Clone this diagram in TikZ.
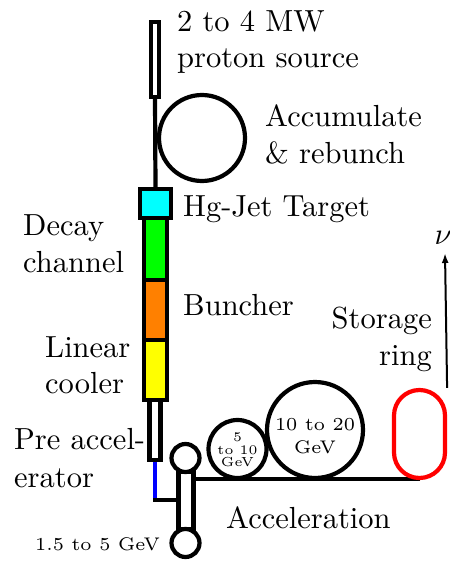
\documentclass[tikz,border=0pt]{standalone}
\usepackage{fontspec}
\usetikzlibrary{arrows.meta}
\definecolor{aqua}{RGB}{0,255,255}
\definecolor{lime}{RGB}{0,255,0}
\definecolor{orng}{RGB}{255,128,0}
\definecolor{yllw}{RGB}{255,255,0}
\definecolor{rred}{RGB}{255,0,0}
\definecolor{bblue}{RGB}{0,0,255}
\newcommand{\bigtxt}[1]{\scalebox{3.05}{\fontsize{10}{12}\selectfont #1}}
\newcommand{\midtxt}[1]{\scalebox{3.05}{\fontsize{6}{7}\selectfont #1}}
\newcommand{\smltxt}[1]{\scalebox{3.05}{\fontsize{4.3}{5}\selectfont #1}}
\tikzset{
  lbl/.style={inner sep=0pt},
  box/.style={draw, line width=4.2pt, inner sep=0pt, rectangle},
  ring/.style={draw, line width=4.2pt, inner sep=0pt, circle},
  wire/.style={line width=4.2pt},
}
\begin{document}
\begin{tikzpicture}[x=1pt,y=-1pt]
\useasboundingbox (0,0) rectangle (449,561);

% proton source and accumulator
\node[box, fill=white, minimum width=8pt, minimum height=75pt] (src) at (155,59.5) {};
\node[box, fill=aqua, minimum width=31pt, minimum height=29pt] (tgt) at (155.5,203.5) {};
\draw[wire] (src.south) -- (tgt.north);
\node[ring, minimum size=86pt] (acc) at (202,138) {};

% decay channel, buncher, cooler
\node[box, fill=lime, minimum width=23pt, minimum height=62pt] (dec) at (155.5,249) {};
\node[box, fill=orng, minimum width=23pt, minimum height=60pt] (bun) at (155.5,310) {};
\node[box, fill=yllw, minimum width=23pt, minimum height=60pt] (cool) at (155.5,370) {};
\node[box, fill=white, minimum width=11pt, minimum height=60pt] (pre) at (155,430) {};

% dumbbell linac
\node[box, fill=white, minimum width=15pt, minimum height=57pt] (bar) at (186,500.5) {};
\node[ring, fill=white, minimum size=28pt] (d1) at (185.5,458) {};
\node[ring, fill=white, minimum size=28pt] (d2) at (185.5,543) {};
\coordinate (bend) at (155,500);
\draw[bblue, line width=4pt] (pre.south) -- (bend);
\draw[wire, line cap=rect] (bend) -- (bar.west |- bend);

% storage ring and RLAs
\coordinate (srb) at (419.5,479);
\draw[wire] (bar.east |- srb) -- (srb);
\node[draw=rred, line width=4.2pt, inner sep=0pt, minimum width=51pt, minimum height=88pt, rounded corners=25.5pt, fill=white] (sr) at (419.5,434) {};
\node[ring, fill=white, minimum size=58pt] (c1) at (237.5,449) {};
\node[ring, fill=white, minimum size=96pt] (c2) at (315,430) {};

% neutrino arrow
\coordinate (nutip) at (445,253);
\draw[line width=2pt, -{Latex[length=10pt,width=7pt]}] (sr.north east) -- (nutip);
\node[lbl] (nu) at (443,238) {\bigtxt{$\nu$}};

% labels
\node[lbl, anchor=base west] (l1) at (177,32) {\bigtxt{2 to 4 MW}};
\node[lbl, anchor=base west] (l2) at (177,68) {\bigtxt{proton source}};
\node[lbl, anchor=base west] (l3) at (265,127) {\bigtxt{Accumulate}};
\node[lbl, anchor=base west] (l4) at (265,164) {\bigtxt{\& rebunch}};
\node[lbl, anchor=base west] (l5) at (183,216) {\bigtxt{Hg-Jet Target}};
\node[lbl, anchor=base west] (l6) at (23,235) {\bigtxt{Decay}};
\node[lbl, anchor=base west] (l7) at (23,272) {\bigtxt{channel}};
\node[lbl, anchor=base west] (l8) at (183,315) {\bigtxt{Buncher}};
\node[lbl, anchor=base west] (l9) at (45,357) {\bigtxt{Linear}};
\node[lbl, anchor=base west] (l10) at (45,393) {\bigtxt{cooler}};
\node[lbl, anchor=base east] (l11) at (432,328) {\bigtxt{Storage}};
\node[lbl, anchor=base east] (l12) at (432,365) {\bigtxt{ring}};
\node[lbl, anchor=base west] (l13) at (14,449) {\bigtxt{Pre accel-}};
\node[lbl, anchor=base west] (l14) at (14,487) {\bigtxt{erator}};
\node[lbl, anchor=base west] (l15) at (35,550) {\midtxt{1.5 to 5 GeV}};
\node[lbl, anchor=base west] (l16) at (226,528) {\bigtxt{Acceleration}};
\node[lbl] (l17) at (315,425) {\midtxt{10 to 20}};
\node[lbl] (l18) at (315,447) {\midtxt{GeV}};
\node[lbl] (l19) at (237.5,437) {\smltxt{5}};
\node[lbl] (l20) at (237.5,450) {\smltxt{to 10}};
\node[lbl] (l21) at (237.5,462) {\smltxt{GeV}};
\end{tikzpicture}
\end{document}
